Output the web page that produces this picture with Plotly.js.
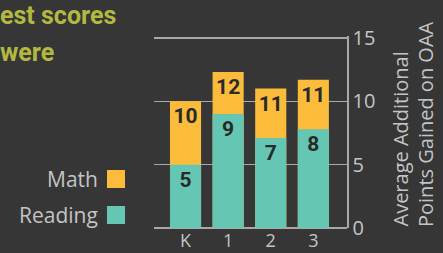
<!DOCTYPE html>
<html>
<head>
<meta charset="utf-8">
<script src="https://cdn.plot.ly/plotly-3.0.1.min.js"></script>
<style>
html,body{margin:0;padding:0;background:#363636;}
#chart{width:443px;height:253px;}
</style>
</head>
<body>
<div id="chart"></div>
<script>
var grades = ["K", "1", "2", "3"];
var readingValues = [5, 9, 7.1, 7.8];
var mathValues = [10, 12.3, 11, 11.7];
var readingLabels = ["5", "9", "7", "8"];
var mathLabels = ["10", "12", "11", "11"];
var yTicks = [0, 5, 10, 15];

var teal = "#66c6b4", gold = "#fbbc3b", gridC = "#a8a8a8", textC = "#c4c4c4";
var labelFont = {family: "Roboto, sans-serif", size: 21, color: "#2a2a2a", weight: 700};
var uiFont = "Open Sans, sans-serif";

var traces = [
  {type: "bar", x: grades, y: mathValues, name: "Math", marker: {color: gold},
   text: mathLabels, textposition: "inside", insidetextanchor: "end", textangle: 0,
   textfont: labelFont, hoverinfo: "none", showlegend: false},
  {type: "bar", x: grades, y: readingValues, name: "Reading", marker: {color: teal},
   text: readingLabels, textposition: "inside", insidetextanchor: "end", textangle: 0,
   textfont: labelFont, hoverinfo: "none", showlegend: false}
];

function px2x(p){ return (p - 154) / 193; }
function py2y(p){ return (228 - p) / 192; }

var layout = {
  width: 443, height: 253,
  margin: {l: 154, r: 96, t: 36, b: 25},
  paper_bgcolor: "#363636", plot_bgcolor: "rgba(0,0,0,0)",
  barmode: "overlay", bargap: 0.27,
  font: {family: uiFont, color: textC},
  xaxis: {type: "category", range: [-0.74, 3.79], showgrid: false, zeroline: false, showline: false,
          ticks: "", ticklabelstandoff: 0, tickfont: {size: 18, color: textC}, fixedrange: true},
  yaxis: {side: "right", range: [0, 15.15], tickvals: yTicks, showgrid: true,
          gridcolor: gridC, gridwidth: 1.5, zeroline: true, zerolinecolor: gridC, zerolinewidth: 1.5,
          showline: true, linecolor: gridC, linewidth: 1.5, ticks: "",
          tickfont: {size: 20, color: textC}},
  shapes: [
    {type: "rect", xref: "paper", yref: "paper", x0: px2x(107), x1: px2x(125), y0: py2y(188), y1: py2y(170), fillcolor: gold, line: {width: 0}},
    {type: "rect", xref: "paper", yref: "paper", x0: px2x(107), x1: px2x(125), y0: py2y(224), y1: py2y(206), fillcolor: teal, line: {width: 0}}
  ],
  annotations: [
    {xref: "paper", yref: "paper", x: px2x(100), y: py2y(179), xanchor: "right", yanchor: "middle", showarrow: false,
     text: "Math", font: {size: 21, color: textC}},
    {xref: "paper", yref: "paper", x: px2x(100), y: py2y(215), xanchor: "right", yanchor: "middle", showarrow: false,
     text: "Reading", font: {size: 21, color: textC}},
    {xref: "paper", yref: "paper", x: px2x(400), y: py2y(229), xanchor: "center", yanchor: "bottom", showarrow: false,
     textangle: -90, text: "Average Additional", font: {size: 20, color: textC}},
    {xref: "paper", yref: "paper", x: px2x(425), y: py2y(229), xanchor: "center", yanchor: "bottom", showarrow: false,
     textangle: -90, text: "Points Gained on OAA", font: {size: 20, color: textC}},
    {xref: "paper", yref: "paper", x: px2x(-2), y: py2y(15), xanchor: "left", yanchor: "middle", showarrow: false,
     text: "<b>est scores</b>", font: {family: "Roboto, sans-serif", size: 25, color: "#b3b840"}},
    {xref: "paper", yref: "paper", x: px2x(-2), y: py2y(52), xanchor: "left", yanchor: "middle", showarrow: false,
     text: "<b>were</b>", font: {family: "Roboto, sans-serif", size: 25, color: "#b3b840"}}
  ]
};

Plotly.newPlot("chart", traces, layout, {displayModeBar: false, staticPlot: true});
</script>
</body>
</html>
